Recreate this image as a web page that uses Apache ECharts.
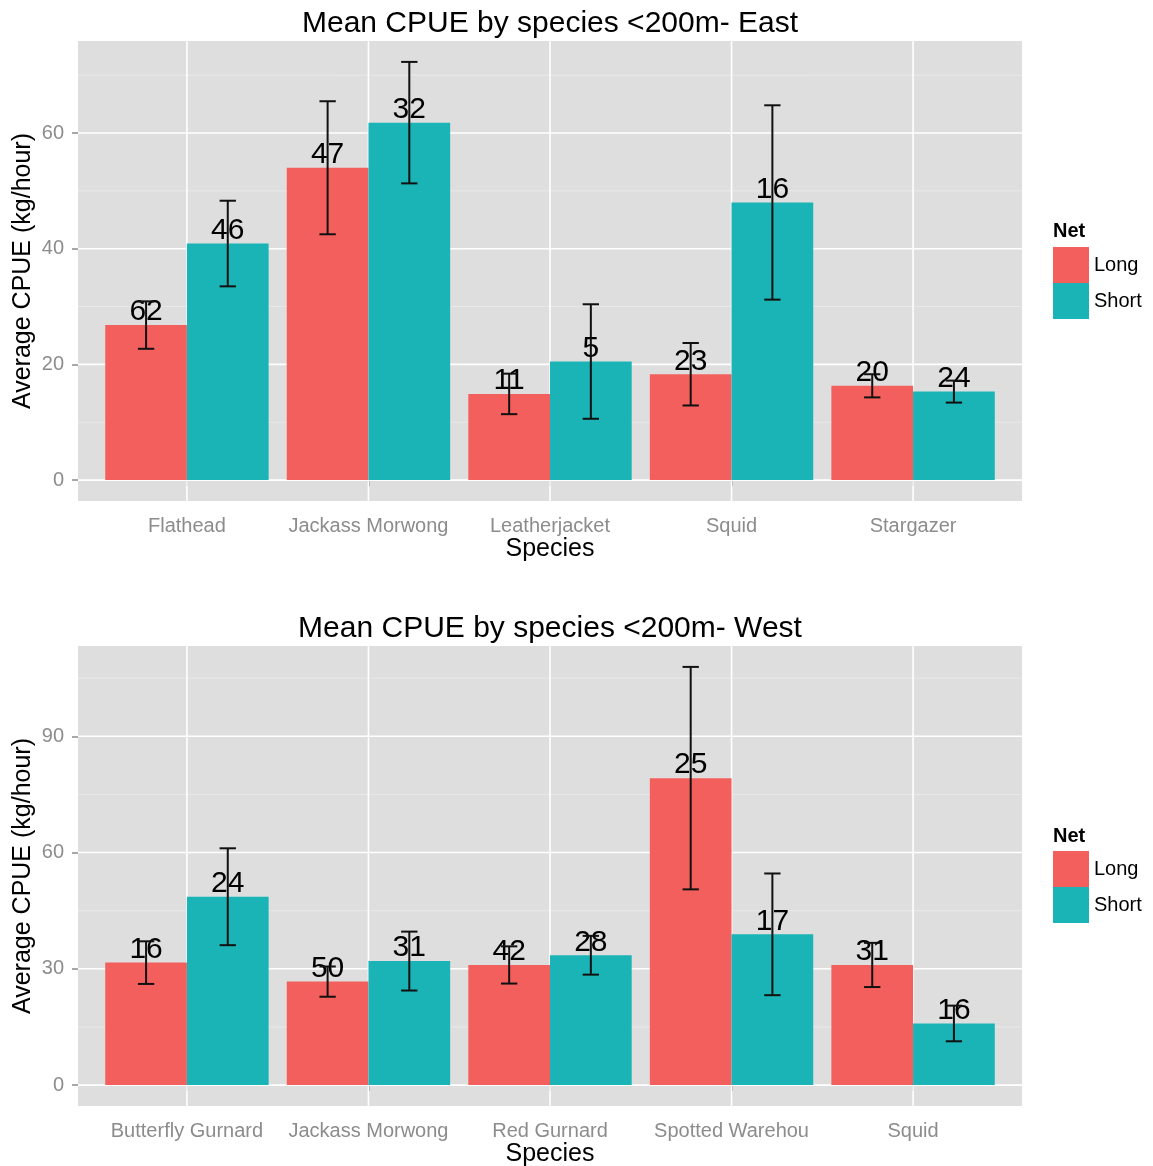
<!DOCTYPE html>
<html>
<head>
<meta charset="utf-8">
<script src="https://cdn.jsdelivr.net/npm/echarts@6/dist/echarts.min.js"></script>
<style>
  html, body { margin: 0; background: #fff; }
  #main { width: 1153px; height: 1166px; }
</style>
</head>
<body>
<div id="main"></div>
<script>
// East panel
var eastSpecies = ['Flathead', 'Jackass Morwong', 'Leatherjacket', 'Squid', 'Stargazer'];
var eastLong = [26.8, 54.0, 14.9, 18.3, 16.3];
var eastLongErr = [4.1, 11.5, 3.5, 5.4, 2.0];
var eastLongN = [62, 47, 11, 23, 20];
var eastShort = [40.9, 61.8, 20.5, 48.0, 15.3];
var eastShortErr = [7.4, 10.5, 9.9, 16.8, 1.9];
var eastShortN = [46, 32, 5, 16, 24];
var eastTicks = [0, 20, 40, 60];

// West panel
var westSpecies = ['Butterfly Gurnard', 'Jackass Morwong', 'Red Gurnard', 'Spotted Warehou', 'Squid'];
var westLong = [31.6, 26.7, 31.0, 79.2, 31.0];
var westLongErr = [5.5, 3.9, 4.8, 28.7, 5.7];
var westLongN = [16, 50, 42, 25, 31];
var westShort = [48.6, 32.0, 33.5, 38.9, 15.9];
var westShortErr = [12.5, 7.6, 5.0, 15.7, 4.6];
var westShortN = [24, 31, 28, 17, 16];
var westTicks = [0, 30, 60, 90];

var RED = '#F25F5C', TEAL = '#1AB3B6';
var FONT = '"Liberation Sans", Arial, Helvetica, sans-serif';
var GREY = '#8C8C8C';

var chart = echarts.init(document.getElementById('main'));

// bar + count label, dodged by offset (in category units)
function barItem(offset) {
  return function (params, api) {
    var x = api.value(0) + offset, v = api.value(1);
    var tl = api.coord([x - 0.225, v]);
    var br = api.coord([x + 0.225, 0]);
    return {
      type: 'group',
      children: [{
        type: 'rect',
        shape: { x: tl[0], y: tl[1], width: br[0] - tl[0], height: br[1] - tl[1] },
        style: { fill: api.visual('color') }
      }, {
        type: 'text',
        x: (tl[0] + br[0]) / 2,
        y: tl[1] - 13,
        z2: 10,
        style: {
          text: String(api.value(2)), fill: '#000', fontSize: 30, fontFamily: FONT,
          align: 'center', verticalAlign: 'middle'
        }
      }]
    };
  };
}

function errItem(offset) {
  return function (params, api) {
    var x = api.value(0) + offset, m = api.value(1), e = api.value(2);
    var hi = api.coord([x, m + e]), lo = api.coord([x, m - e]);
    var hw = api.size([0.045, 0])[0];
    var st = { stroke: '#111', lineWidth: 2 };
    return {
      type: 'group',
      children: [
        { type: 'line', shape: { x1: hi[0], y1: hi[1], x2: lo[0], y2: lo[1] }, style: st },
        { type: 'line', shape: { x1: hi[0] - hw, y1: hi[1], x2: hi[0] + hw, y2: hi[1] }, style: st },
        { type: 'line', shape: { x1: lo[0] - hw, y1: lo[1], x2: lo[0] + hw, y2: lo[1] }, style: st }
      ]
    };
  };
}

function hGrid(params, api) {
  var cs = params.coordSys;
  var y = api.coord([1, api.value(0)])[1];
  var major = api.value(1) === 1;
  return {
    type: 'line',
    shape: { x1: cs.x, y1: y, x2: cs.x + cs.width, y2: y },
    style: { stroke: major ? '#FFFFFF' : '#EAEAEA', lineWidth: major ? 1.6 : 0.9 }
  };
}

function vGrid(params, api) {
  var cs = params.coordSys;
  var x = api.coord([api.value(0), 0])[0];
  return {
    type: 'line',
    shape: { x1: x, y1: cs.y, x2: x, y2: cs.y + cs.height },
    style: { stroke: '#FFFFFF', lineWidth: 1.6 }
  };
}

var grids = [], xAxes = [], yAxes = [], series = [];

function panel(k, top, cats, lv, le, ln, sv, se, sn, ticks) {
  // ggplot style 5% expansion of [0, max upper]
  var upper = 0;
  lv.forEach(function (v, i) { upper = Math.max(upper, v + le[i]); });
  sv.forEach(function (v, i) { upper = Math.max(upper, v + se[i]); });
  var pad = upper * 0.05;
  var step = ticks[1] - ticks[0];
  var idx = cats.map(function (c, i) { return i + 1; });

  grids.push({ left: 78, top: top, width: 944, height: 460, show: true,
    containLabel: false, outerBoundsMode: 'none',
    backgroundColor: '#DEDEDE', borderWidth: 0 });

  xAxes.push({
    gridIndex: k, type: 'value', min: 0.4, max: 5.6,
    name: 'Species', nameLocation: 'middle', nameGap: 36, nameMoveOverlap: false,
    nameTextStyle: { fontSize: 25, color: '#000', fontFamily: FONT },
    axisLine: { show: false },
    axisTick: { customValues: idx, length: 6, lineStyle: { color: GREY, width: 1.5 } },
    axisLabel: { customValues: idx, margin: 15, fontSize: 20, color: GREY, fontFamily: FONT,
      formatter: function (v) { return cats[Math.round(v) - 1]; } },
    splitLine: { show: false }
  });

  yAxes.push({
    gridIndex: k, type: 'value', min: -pad, max: upper + pad,
    name: 'Average CPUE (kg/hour)', nameLocation: 'middle', nameGap: 42, nameMoveOverlap: false,
    nameTextStyle: { fontSize: 25, color: '#000', fontFamily: FONT },
    axisLine: { show: false },
    axisTick: { customValues: ticks, length: 6, lineStyle: { color: GREY, width: 1.5 } },
    axisLabel: { customValues: ticks, margin: 14, fontSize: 20, color: GREY, fontFamily: FONT },
    splitLine: { show: false }
  });

  var lines = [];
  ticks.forEach(function (t) { lines.push([t, 1]); lines.push([t + step / 2, 0]); });

  series.push({ type: 'custom', name: 'hgrid' + k, xAxisIndex: k, yAxisIndex: k, z: 1, silent: true,
    renderItem: hGrid, data: lines });
  series.push({ type: 'custom', name: 'vgrid' + k, xAxisIndex: k, yAxisIndex: k, z: 1, silent: true,
    renderItem: vGrid, data: idx.map(function (i) { return [i]; }) });

  series.push({ type: 'custom', name: 'Long', xAxisIndex: k, yAxisIndex: k, z: 2,
    itemStyle: { color: RED }, renderItem: barItem(-0.225),
    data: lv.map(function (v, i) { return [i + 1, v, ln[i]]; }) });
  series.push({ type: 'custom', name: 'Short', xAxisIndex: k, yAxisIndex: k, z: 2,
    itemStyle: { color: TEAL }, renderItem: barItem(0.225),
    data: sv.map(function (v, i) { return [i + 1, v, sn[i]]; }) });

  series.push({ type: 'custom', name: 'errLong' + k, xAxisIndex: k, yAxisIndex: k, z: 3,
    renderItem: errItem(-0.225), data: lv.map(function (v, i) { return [i + 1, v, le[i]]; }) });
  series.push({ type: 'custom', name: 'errShort' + k, xAxisIndex: k, yAxisIndex: k, z: 3,
    renderItem: errItem(0.225), data: sv.map(function (v, i) { return [i + 1, v, se[i]]; }) });
}

panel(0, 41, eastSpecies, eastLong, eastLongErr, eastLongN, eastShort, eastShortErr, eastShortN, eastTicks);
panel(1, 646, westSpecies, westLong, westLongErr, westLongN, westShort, westShortErr, westShortN, westTicks);

function legendAt(top) {
  return {
    data: ['Long', 'Short'], orient: 'vertical', left: 1053, top: top, padding: 0,
    itemWidth: 36, itemHeight: 36, itemGap: 0, icon: 'rect', selectedMode: false,
    textStyle: { fontSize: 20, color: '#000', fontFamily: FONT }
  };
}

var titleStyle = { fontSize: 30, fontWeight: 'normal', color: '#000', fontFamily: FONT };
var netStyle = { fontSize: 20, fontWeight: 'bold', color: '#000', fontFamily: FONT };

var option = {
  backgroundColor: '#fff',
  animation: false,
  title: [
    { text: 'Mean CPUE by species <200m- East', left: 550, top: 9, textAlign: 'center', padding: 0, textStyle: titleStyle },
    { text: 'Mean CPUE by species <200m- West', left: 550, top: 614, textAlign: 'center', padding: 0, textStyle: titleStyle },
    { text: 'Net', left: 1053, top: 221, padding: 0, textStyle: netStyle },
    { text: 'Net', left: 1053, top: 826, padding: 0, textStyle: netStyle }
  ],
  legend: [legendAt(247), legendAt(851)],
  grid: grids,
  xAxis: xAxes,
  yAxis: yAxes,
  series: series
};

chart.setOption(option);
</script>
</body>
</html>
